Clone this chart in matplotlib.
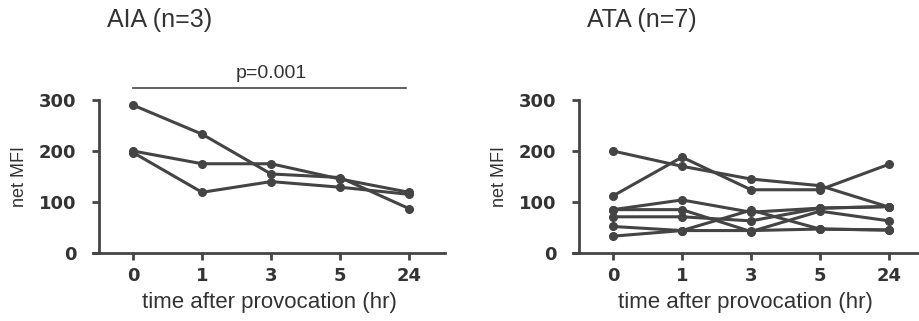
import matplotlib.pyplot as plt

plt.rcParams['font.family'] = ['Liberation Sans', 'DejaVu Sans']

# time points (hr) and the per-subject net MFI values
tempos = ['0', '1', '3', '5', '24']

aia = [
    [290, 233, 155, 148, 87],
    [200, 175, 175, 145, 119],
    [197, 119, 140, 129, 115],
]

ata = [
    [200, 170, 145, 132, 90],
    [112, 188, 124, 124, 174],
    [85, 104, 80, 88, 91],
    [85, 85, 42, 82, 63],
    [71, 71, 63, 88, 91],
    [52, 44, 44, 47, 45],
    [33, 44, 84, 47, 45],
]

p_texto = 'p=0.001'

cor = '#444444'
cor_texto = '#333333'

fig = plt.figure(figsize=(9.19, 3.21), dpi=100)
ax1 = fig.add_axes([93 / 919, 1 - 253 / 321, 352 / 919, 153 / 321])
ax2 = fig.add_axes([573 / 919, 1 - 253 / 321, 345 / 919, 153 / 321])


def desenha(ax, series, titulo, xmax):
    x = list(range(len(tempos)))
    for s in series:
        ax.plot(x, s, color=cor, lw=2.2, marker='o', markersize=5.5,
                clip_on=False, solid_capstyle='round')
    ax.set_xlim(-0.58, xmax)
    ax.set_ylim(0, 300)
    ax.set_xticks(x)
    ax.set_xticklabels(tempos)
    ax.set_yticks([0, 100, 200, 300])
    for lado in ['top', 'right']:
        ax.spines[lado].set_visible(False)
    ax.spines['left'].set_position(('data', -0.5))
    for lado in ['left', 'bottom']:
        ax.spines[lado].set_linewidth(2)
        ax.spines[lado].set_color(cor)
    ax.tick_params(direction='out', length=5, width=2, color=cor,
                   labelcolor=cor_texto)
    ax.tick_params(axis='y', pad=11)
    ax.tick_params(axis='x', pad=5)
    for t in ax.get_xticklabels() + ax.get_yticklabels():
        t.set_fontfamily('DejaVu Sans')
        t.set_fontweight('bold')
        t.set_fontsize(13)
    ax.set_ylabel('net MFI', fontsize=13, color=cor_texto, labelpad=8)
    ax.set_xlabel('time after provocation (hr)', fontsize=16,
                  color=cor_texto, labelpad=5)
    ax.text(0.04, 1.52, titulo, transform=ax.transAxes, fontsize=18,
            color=cor_texto, ha='left', va='center')


desenha(ax1, aia, 'AIA (n=3)', 4.52)
desenha(ax2, ata, 'ATA (n=7)', 4.42)

# barra de significância
ax1.plot([0, 3.95], [323, 323], color=cor, lw=1.2, clip_on=False)
ax1.text(2, 352, p_texto, ha='center', va='center', fontsize=14,
         color=cor_texto)

plt.savefig('out.png', dpi=100)
